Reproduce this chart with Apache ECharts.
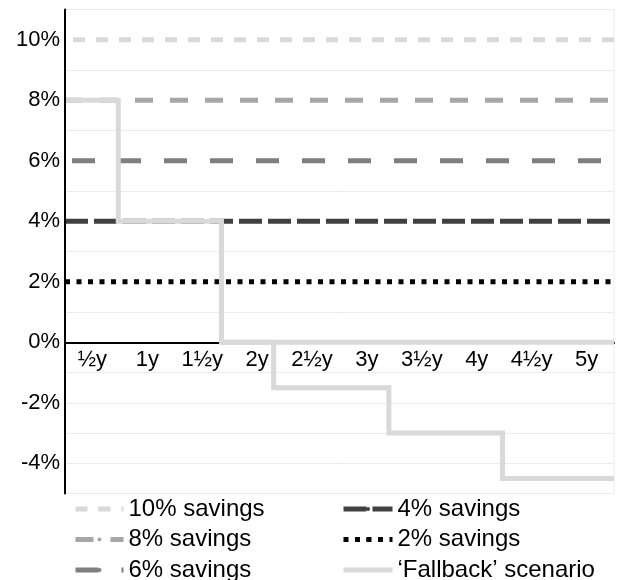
<!DOCTYPE html>
<html><head><meta charset="utf-8">
<script src="https://cdn.jsdelivr.net/npm/echarts@6/dist/echarts.min.js"></script>
<style>html,body{margin:0;padding:0;background:#fff}#c{width:620px;height:580px}</style>
</head><body><div id="c"></div>
<script>
// ---- data ----
const xLabels = ['½y', '1y', '1½y', '2y', '2½y', '3y', '3½y', '4y', '4½y', '5y'];
const savingsNames = ['10% savings', '8% savings', '6% savings', '4% savings', '2% savings'];
const savingsRates = [10, 8, 6, 4, 2];
const fallbackName = '‘Fallback’ scenario';
const fallbackStepX = [0, 0.97, 2.85, 3.8, 5.9, 7.97, 10];
const fallbackLevels = [8, 4, 0, -1.5, -3, -4.5, -4.5];
const zeroLineX = [2.85, 10];
const zeroLineY = [0, 0];
const xSpan = [0, 10];
const extraGridLevels = [-2, -4];

// ---- styles ----
const lineColors = ['#d9d9d9', '#a6a6a6', '#7f7f7f', '#404040', '#000000'];
const lineDashes = [[12, 11], [18, 17], [23, 23], [23, 6], [5, 6.5]];
const dashOffsets = [15, 0, 39, 0, 0];
const GRID_COLOR = '#ebebeb';
const FONT = "'Liberation Sans', Arial, sans-serif";

const chart = echarts.init(document.getElementById('c'), null, {renderer: 'canvas'});

const series = savingsNames.map((name, i) => ({
  name: name,
  type: 'line',
  symbol: 'none',
  silent: true,
  data: xSpan.map(x => [x, savingsRates[i]]),
  lineStyle: {color: lineColors[i], width: 5, type: lineDashes[i], dashOffset: dashOffsets[i], cap: 'butt'},
  itemStyle: {color: lineColors[i]},
  z: 2
}));
series.push({
  name: 'zero',
  type: 'line',
  symbol: 'none',
  silent: true,
  data: zeroLineX.map((x, i) => [x, zeroLineY[i]]),
  lineStyle: {color: '#d9d9d9', width: 5, type: 'solid'},
  itemStyle: {color: '#d9d9d9'},
  markLine: {
    silent: true,
    symbol: 'none',
    label: {show: false},
    z: 1,
    lineStyle: {color: GRID_COLOR, width: 1, type: 'solid'},
    data: extraGridLevels.map(v => ({yAxis: v}))
  },
  z: 3
});
series.push({
  name: fallbackName,
  type: 'line',
  symbol: 'none',
  silent: true,
  step: 'end',
  data: fallbackStepX.map((x, i) => [x, fallbackLevels[i]]),
  lineStyle: {color: '#d9d9d9', width: 5, type: 'solid', join: 'miter'},
  itemStyle: {color: '#d9d9d9'},
  z: 4
});

const legendCommon = {
  orient: 'vertical',
  top: 497,
  height: 120,
  padding: 0,
  itemWidth: 48,
  itemHeight: 5,
  itemGap: 6.5,
  selectedMode: false,
  lineStyle: {width: 5, dashOffset: 0},
  textStyle: {fontFamily: FONT, fontSize: 24, color: '#000'}
};

chart.setOption({
  animation: false,
  backgroundColor: '#ffffff',
  grid: {left: 65, right: 6, top: 9.5, bottom: 86.5, show: true, borderColor: '#ececec', borderWidth: 1, outerBoundsMode: 'none'},
  xAxis: {
    type: 'value', min: 0, max: 10, interval: 0.5,
    position: 'bottom',
    offset: -151.25,
    axisLine: {show: true, onZero: false, lineStyle: {color: '#000', width: 2}},
    axisTick: {show: false},
    splitLine: {show: false},
    axisLabel: {
      fontFamily: FONT, fontSize: 22, color: '#000', margin: 7,
      formatter: v => {
        const k = v - 0.5;
        const i = Math.round(k);
        return (Math.abs(k - i) < 1e-6 && i >= 0 && i < xLabels.length) ? xLabels[i] : '';
      }
    }
  },
  yAxis: [
    {
      type: 'value', min: -5, max: 11, interval: 1,
      position: 'left',
      axisLine: {show: true, onZero: false, lineStyle: {color: '#000', width: 2}},
      axisTick: {show: false},
      splitLine: {show: false},
      z: 5,
      axisLabel: {
        fontFamily: FONT, fontSize: 22, color: '#000', margin: 5,
        formatter: v => (Math.round(v) % 2 === 0 ? v + '%' : '')
      }
    },
    {
      type: 'value', min: -5, max: 11, interval: 2,
      position: 'right',
      axisLine: {show: false},
      axisTick: {show: false},
      axisLabel: {show: false},
      splitLine: {show: true, lineStyle: {color: GRID_COLOR, width: 1}}
    }
  ],
  legend: [
    Object.assign({}, legendCommon, {left: 73, data: savingsNames.slice(0, 3)}),
    Object.assign({}, legendCommon, {left: 341, itemWidth: 49, data: [savingsNames[3], savingsNames[4], fallbackName]})
  ],
  series: series
});
</script>
</body></html>
